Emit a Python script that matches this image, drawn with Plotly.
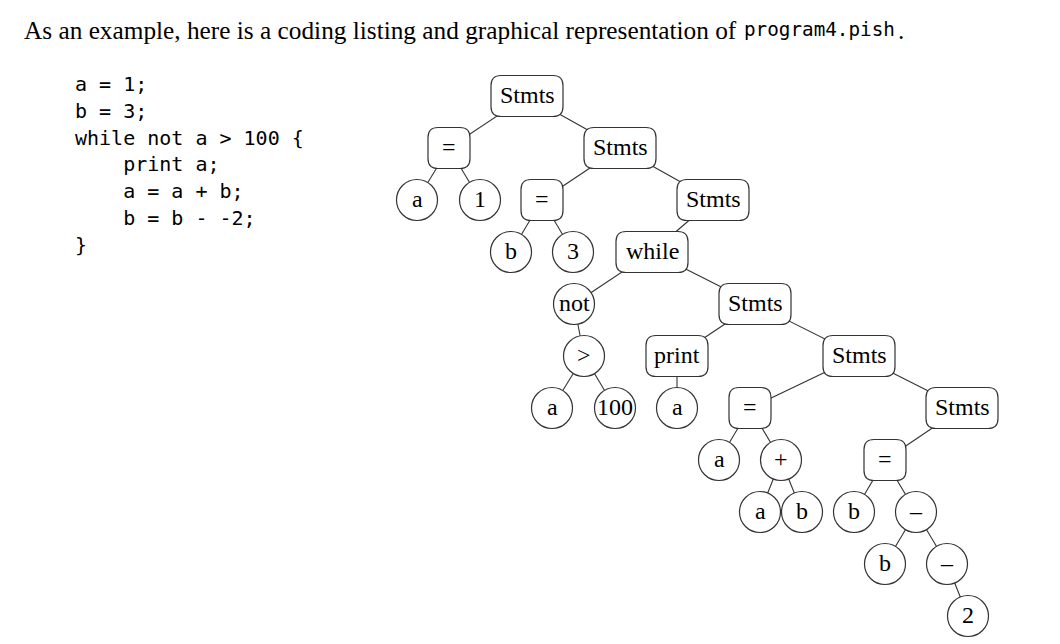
import plotly.graph_objects as go

# parse tree of program4.pish
labels = ["Stmts", "=", "a", "1", "Stmts", "=", "b", "3", "Stmts", "while",
          "not", ">", "a", "100", "Stmts", "print", "a", "Stmts", "=", "a",
          "+", "a", "b", "Stmts", "=", "b", "\u2013", "b", "\u2013", "2"]
node_x = [527, 449, 417, 480, 620, 542, 511, 573, 713, 652,
          574, 584, 552, 615, 755, 677, 677, 859, 750, 719,
          781, 760, 802, 962, 885, 854, 916, 885, 947, 968]
depth = [0, 1, 2, 2, 1, 2, 3, 3, 2, 3,
         4, 5, 6, 6, 4, 5, 6, 5, 6, 7,
         7, 8, 8, 6, 7, 8, 8, 9, 9, 10]
parent = [-1, 0, 1, 1, 0, 4, 5, 5, 4, 8,
          9, 10, 11, 11, 9, 14, 15, 14, 17, 18,
          18, 20, 20, 17, 23, 24, 24, 26, 26, 28]
kind = ["box", "box", "circ", "circ", "box", "box", "circ", "circ", "box", "box",
        "circ", "circ", "circ", "circ", "box", "box", "circ", "box", "box", "circ",
        "circ", "circ", "circ", "box", "box", "circ", "circ", "circ", "circ", "circ"]

code_lines = ["a = 1;", "b = 3;", "while not a > 100 {", "    print a;",
              "    a = a + b;", "    b = b - -2;", "}"]
intro = "As an example, here is a coding listing and graphical representation of"
filename = "program4.pish"

box_w = {"Stmts": 36, "=": 21, "while": 36, "print": 31}

# the page body has an 8px margin, so the figure starts at (8, 8)
W, H, OFF = 1060, 644, 8

fig = go.Figure()

# edges
ex, ey = [], []
for i, p in enumerate(parent):
    if p < 0:
        continue
    ex += [node_x[p], node_x[i], None]
    ey += [depth[p], depth[i], None]
fig.add_trace(go.Scatter(x=ex, y=ey, mode="lines", hoverinfo="skip",
                         line=dict(color="#333333", width=1.1), showlegend=False))


def rbox(w, h, r):
    return (f"M {-w + r},{-h} L {w - r},{-h} Q {w},{-h} {w},{-h + r} "
            f"L {w},{h - r} Q {w},{h} {w - r},{h} L {-w + r},{h} "
            f"Q {-w},{h} {-w},{h - r} L {-w},{-h + r} Q {-w},{-h} {-w + r},{-h} Z")


for lab, x, d, k in zip(labels, node_x, depth, kind):
    common = dict(xref="x", yref="y", xsizemode="pixel", ysizemode="pixel",
                  xanchor=x, yanchor=d, layer="above", fillcolor="white",
                  line=dict(color="#333333", width=1.2))
    if k == "box":
        fig.add_shape(type="path", path=rbox(box_w[lab], 20.5, 10), **common)
    else:
        fig.add_shape(type="circle", x0=-20.5, x1=20.5, y0=-20.5, y1=20.5, **common)
    fig.add_annotation(x=x, y=d, text=lab, showarrow=False, xanchor="center",
                       yanchor="middle", yshift=1,
                       font=dict(family="Liberation Serif", size=24, color="black"))


def py(pix):
    # paper fraction for a window pixel row
    return 1 - (pix - OFF) / (H - OFF)


# code listing
for j, line in enumerate(code_lines):
    stripped = line.lstrip(" ")
    txt = "\u00a0" * (len(line) - len(stripped)) + stripped
    fig.add_annotation(xref="x", yref="paper", x=73, y=py(84 + 26.8 * j),
                       text=txt, showarrow=False, xanchor="left", yanchor="middle",
                       font=dict(family="DejaVu Sans Mono", size=20, color="black"))

# heading sentence
fig.add_annotation(xref="x", yref="paper", x=22, y=py(30), text=intro,
                   showarrow=False, xanchor="left", yanchor="middle",
                   font=dict(family="Liberation Serif", size=25.3, color="black"))
fig.add_annotation(xref="x", yref="paper", x=742, y=py(30), text=filename,
                   showarrow=False, xanchor="left", yanchor="middle",
                   font=dict(family="DejaVu Sans Mono", size=19.3, color="black"))
fig.add_annotation(xref="x", yref="paper", x=896, y=py(30), text=".",
                   showarrow=False, xanchor="left", yanchor="middle",
                   font=dict(family="Liberation Serif", size=25.3, color="black"))

fig.update_xaxes(range=[OFF, W], visible=False, fixedrange=True)
fig.update_yaxes(range=[(H - 96) / 52, (OFF - 96) / 52], visible=False, fixedrange=True)
fig.update_layout(width=W - OFF, height=H - OFF, margin=dict(l=0, r=0, t=0, b=0),
                  plot_bgcolor="white", paper_bgcolor="white")
fig.write_html("out.html")
